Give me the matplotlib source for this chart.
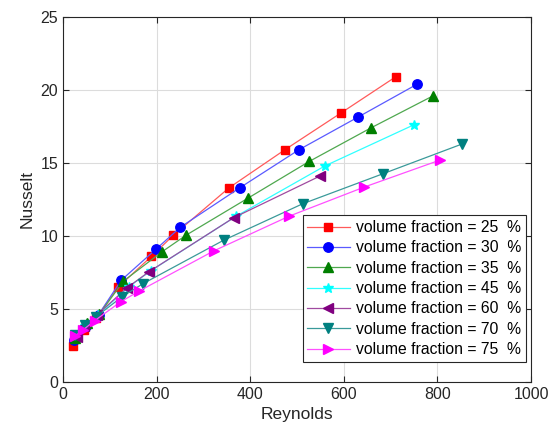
import matplotlib
matplotlib.use('Agg')
import matplotlib.pyplot as plt

plt.rcParams['font.family'] = ['Liberation Sans', 'DejaVu Sans']

# Reynolds / Nusselt pairs for each volume fraction
fractions = [25, 30, 35, 45, 60, 70, 75]

re_25 = [22, 45, 71, 118, 189, 236, 355, 474, 593, 711]
nu_25 = [2.45, 3.55, 4.4, 6.5, 8.6, 10.05, 13.3, 15.9, 18.4, 20.9]
re_30 = [23.5, 50, 76, 124, 199, 251, 378, 504, 631, 757]
nu_30 = [2.85, 3.8, 4.6, 6.95, 9.1, 10.6, 13.3, 15.9, 18.15, 20.4]
re_35 = [26, 52, 78, 129, 211, 263, 396, 526, 658, 791]
nu_35 = [3.0, 4.05, 4.65, 6.9, 8.9, 10.05, 12.6, 15.1, 17.4, 19.6]
re_45 = [30, 47, 75, 140, 187, 370, 560, 749]
nu_45 = [3.2, 3.8, 4.6, 6.5, 7.6, 11.35, 14.8, 17.6]
re_60 = [29, 45, 73, 137, 184, 365, 549]
nu_60 = [3.1, 3.8, 4.6, 6.45, 7.55, 11.25, 14.1]
re_70 = [25.6, 47, 70, 127, 171.6, 343, 512, 683, 853]
nu_70 = [3.2, 3.9, 4.45, 5.85, 6.74, 9.7, 12.2, 14.25, 16.3]
re_75 = [25.6, 42, 68, 123, 163, 322, 483, 644, 806]
nu_75 = [3.13, 3.54, 4.2, 5.48, 6.23, 8.97, 11.35, 13.35, 15.2]

reynolds = [re_25, re_30, re_35, re_45, re_60, re_70, re_75]
nusselt = [nu_25, nu_30, nu_35, nu_45, nu_60, nu_70, nu_75]

markers = ['s', 'o', '^', '*', '<', 'v', '>']
marker_colors = ['#ff0000', '#0000ff', '#007f00', '#00ffff', '#800080', '#008080', '#ff00ff']
line_colors = ['#ff5a5a', '#5a5aff', '#4fa84f', '#30ffff', '#a04aa0', '#3a9a9a', '#ff50ff']
msizes = [5.2, 6.8, 6.8, 7.5, 6.8, 6.8, 6.8]

fig = plt.figure(figsize=(5.5, 4.34), dpi=100)
ax = fig.add_axes([0.1145, 0.12, 0.851, 0.841])

for i in range(len(fractions)):
    ax.plot(reynolds[i], nusselt[i], color=line_colors[i], lw=0.9,
            marker=markers[i], ms=msizes[i], mfc=marker_colors[i],
            mec=marker_colors[i], label='volume fraction = %d  %%' % fractions[i])

ax.set_xlim(0, 1000)
ax.set_ylim(0, 25)
ax.set_xticks([0, 200, 400, 600, 800, 1000])
ax.set_yticks([0, 5, 10, 15, 20, 25])
ax.grid(True, color='#dcdcdc', lw=0.8)
ax.set_axisbelow(True)
ax.tick_params(direction='in', top=True, right=True, labelsize=11.5,
               colors='#262626', length=4)
for sp in ax.spines.values():
    sp.set_color('#262626')
    sp.set_linewidth(0.8)
ax.set_xlabel('Reynolds', fontsize=12.5, color='#262626')
ax.set_ylabel('Nusselt', fontsize=12.5, color='#262626')

leg = ax.legend(loc='lower right', bbox_to_anchor=(0.989, 0.055), fontsize=11.3,
                fancybox=False, framealpha=1, edgecolor='#262626',
                handlelength=2.7, borderpad=0.3, labelspacing=0.34,
                handletextpad=0.4, borderaxespad=0)
leg.get_frame().set_linewidth(0.8)

fig.savefig('out.png', dpi=100)
